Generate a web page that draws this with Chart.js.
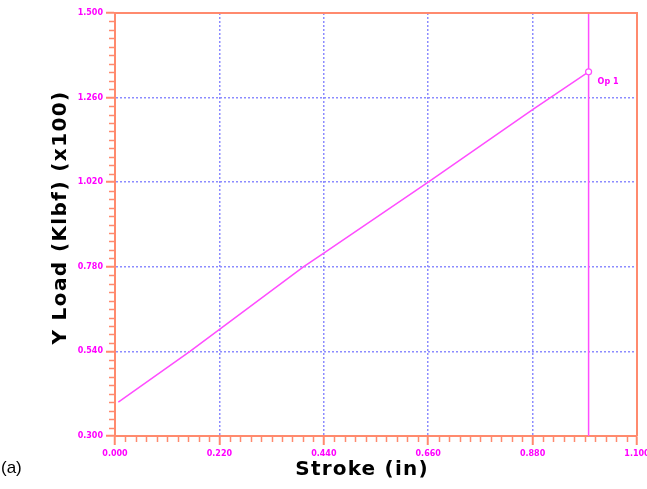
<!DOCTYPE html>
<html>
<head>
<meta charset="utf-8">
<script src="https://cdn.jsdelivr.net/npm/chart.js@4/dist/chart.umd.min.js"></script>
<style>
  html, body { margin: 0; padding: 0; background: #ffffff; overflow: hidden; }
  #wrap { position: relative; width: 647px; height: 489px; }
  #tag { position: absolute; left: 1px; top: 458px; font: 17px "Liberation Sans", Arial, sans-serif; color: #000; }
</style>
</head>
<body>
<div id="wrap">
  <canvas id="c" width="647" height="489"></canvas>
  <div id="tag">(a)</div>
</div>
<script>
// Load–stroke record (stroke in inches, load in Klbf x100)
const strokeIn   = [0.007, 0.158, 0.397, 0.440, 0.660, 0.880, 0.998];
const loadKlbf   = [0.396, 0.540, 0.780, 0.819, 1.020, 1.226, 1.333];

// Cursor position and its label
const cursorX     = [0.998, 0.998];
const cursorY     = [0.300, 1.500];
const cursorLabel = "Op 1";

// Axis ranges, major tick spacing and titles
const xRange = [0.000, 1.100];
const yRange = [0.300, 1.500];
const xStep = 0.22;
const yStep = 0.24;
const minorDivisions = 10;
const xTitle = 'Stroke (in)';
const yTitle = 'Y Load (Klbf) (x100)';

const AXIS = '#FF8A6E';
const GRID = '#8C8CFF';
const MAG  = '#FF00FF';
const LINE = '#FF4DFF';

const tickFont = { family: '"DejaVu Sans", sans-serif', size: 8, weight: 'bold' };
const TITLE_FONT = 'bold 20px "DejaVu Sans", Verdana, sans-serif';

const edge = (v, r) => Math.abs(v - r[0]) < 1e-6 || Math.abs(v - r[1]) < 1e-6;

// Minor tick marks, frame, axis titles and the cursor label
const decorations = {
  id: 'decorations',
  afterDatasetsDraw(chart) {
    const { ctx, chartArea: a, scales: { x, y } } = chart;
    ctx.save();
    ctx.strokeStyle = AXIS;
    ctx.lineWidth = 2;
    ctx.beginPath();
    ctx.moveTo(a.left, a.top); ctx.lineTo(a.right, a.top); ctx.lineTo(a.right, a.bottom);
    ctx.stroke();

    ctx.lineWidth = 1.5;
    const nx = Math.round((xRange[1] - xRange[0]) / xStep) * minorDivisions;
    for (let i = 0; i <= nx; i++) {
      if (i % minorDivisions === 0) continue;
      const px = Math.round(x.getPixelForValue(xRange[0] + i * xStep / minorDivisions)) + 0.5;
      ctx.beginPath(); ctx.moveTo(px, a.bottom); ctx.lineTo(px, a.bottom + 6); ctx.stroke();
    }
    const ny = Math.round((yRange[1] - yRange[0]) / yStep) * minorDivisions;
    for (let i = 0; i <= ny; i++) {
      if (i % minorDivisions === 0) continue;
      const py = Math.round(y.getPixelForValue(yRange[0] + i * yStep / minorDivisions)) + 0.5;
      ctx.beginPath(); ctx.moveTo(a.left, py); ctx.lineTo(a.left - 6, py); ctx.stroke();
    }

    // cursor label
    const last = strokeIn.length - 1;
    ctx.fillStyle = MAG;
    ctx.font = 'bold 8px "DejaVu Sans", sans-serif';
    ctx.textBaseline = 'middle';
    ctx.textAlign = 'left';
    ctx.fillText(cursorLabel, x.getPixelForValue(strokeIn[last]) + 9, y.getPixelForValue(loadKlbf[last]) + 10);

    // axis titles
    ctx.fillStyle = '#000';
    ctx.font = TITLE_FONT;
    ctx.letterSpacing = '1.2px';
    ctx.textAlign = 'center';
    ctx.textBaseline = 'alphabetic';
    ctx.fillText(xTitle, (a.left + a.right) / 2 - 14, a.bottom + 39);
    ctx.translate(a.left - 49, (a.top + a.bottom) / 2 - 7);
    ctx.rotate(-Math.PI / 2);
    ctx.letterSpacing = '1.4px';
    ctx.fillText(yTitle, 0, 0);
    ctx.restore();
  }
};

new Chart(document.getElementById('c'), {
  type: 'scatter',
  data: {
    datasets: [
      {
        data: strokeIn.map((v, i) => ({ x: v, y: loadKlbf[i] })),
        showLine: true,
        borderColor: LINE,
        borderWidth: 1.5,
        pointRadius: ctx => ctx.dataIndex === strokeIn.length - 1 ? 3 : 0,
        pointBorderColor: LINE,
        pointBackgroundColor: '#ffffff',
        pointBorderWidth: 1.2,
        tension: 0
      },
      {
        data: cursorX.map((v, i) => ({ x: v, y: cursorY[i] })),
        showLine: true,
        borderColor: LINE,
        borderWidth: 1.5,
        pointRadius: 0
      }
    ]
  },
  options: {
    responsive: false,
    animation: false,
    events: [],
    layout: { padding: { left: 0, top: 13, right: 10, bottom: 0 } },
    plugins: { legend: { display: false }, tooltip: { enabled: false } },
    scales: {
      x: {
        type: 'linear',
        min: xRange[0], max: xRange[1],
        ticks: {
          stepSize: xStep, color: MAG, font: tickFont, padding: 4,
          maxRotation: 0, autoSkip: false,
          callback: v => v.toFixed(3)
        },
        grid: {
          color: c => edge(c.tick.value, xRange) ? 'rgba(0,0,0,0)' : GRID,
          lineWidth: 1.5,
          tickColor: AXIS, tickLength: 9, tickWidth: 2, tickBorderDash: []
        },
        border: { display: true, color: AXIS, width: 2, dash: [2, 2] },
        title: { display: false },
        afterFit(s) { s.height = 53; s.paddingLeft = 0; s.paddingRight = 0; }
      },
      y: {
        type: 'linear',
        min: yRange[0], max: yRange[1],
        ticks: {
          stepSize: yStep, color: MAG, font: tickFont, padding: 3,
          autoSkip: false,
          callback: v => v.toFixed(3)
        },
        grid: {
          color: c => edge(c.tick.value, yRange) ? 'rgba(0,0,0,0)' : GRID,
          lineWidth: 1.5,
          tickColor: AXIS, tickLength: 9, tickWidth: 2, tickBorderDash: []
        },
        border: { display: true, color: AXIS, width: 2, dash: [2, 2] },
        title: { display: false },
        afterFit(s) { s.width = 115; s.paddingTop = 0; s.paddingBottom = 0; }
      }
    }
  },
  plugins: [decorations]
});
</script>
</body>
</html>
